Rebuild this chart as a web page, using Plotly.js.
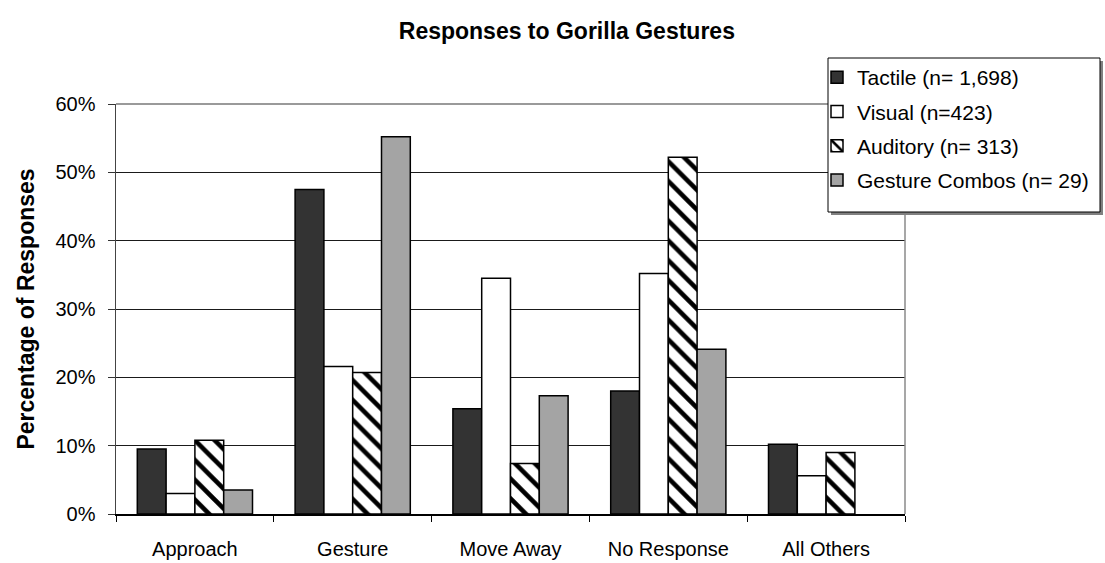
<!DOCTYPE html>
<html>
<head>
<meta charset="utf-8">
<script src="https://cdn.plot.ly/plotly-3.0.1.min.js"></script>
<style>html,body{margin:0;padding:0;background:#fff;}#chart{width:1105px;height:563px;}</style>
</head>
<body>
<div id="chart"></div>
<script>
const categories = ["Approach", "Gesture", "Move Away", "No Response", "All Others"];
const seriesNames = ["Tactile (n= 1,698)", "Visual (n=423)", "Auditory (n= 313)", "Gesture Combos (n= 29)"];
const tactile = [9.5, 47.5, 15.4, 18.0, 10.2];
const visual = [3.0, 21.6, 34.5, 35.2, 5.6];
const auditory = [10.8, 20.7, 7.4, 52.2, 9.0];
const combos = [3.5, 55.2, 17.3, 24.1, null];
const yTicks = [0, 10, 20, 30, 40, 50, 60];

const FONT = "Liberation Sans, Arial, sans-serif";
const outline = {color: "#000", width: 1.5};

const traces = [
  {name: seriesNames[0], y: tactile, marker: {color: "#333333", line: outline}},
  {name: seriesNames[1], y: visual, marker: {color: "#ffffff", line: outline}},
  {name: seriesNames[2], y: auditory, marker: {color: "#ffffff", line: outline,
    pattern: {shape: "\\", fgcolor: "#000", bgcolor: "#fff", size: 14, solidity: 0.33}}},
  {name: seriesNames[3], y: combos, marker: {color: "#b8b8b8", line: outline,
    pattern: {shape: ".", fgcolor: "#707070", bgcolor: "#cdcdcd", size: 2, solidity: 0.5}}}
].map((t, i) => Object.assign({type: "bar", x: categories, legendgroup: "g" + i, hoverinfo: "none"}, t));

const L = 116, R = 200, T = 104, B = 49;
const W = 1105 - L - R, H = 563 - T - B;
const px = v => (v - L) / W;
const py = v => (563 - B - v) / H;

const layout = {
  width: 1105, height: 563,
  margin: {l: L, r: R, t: T, b: B, autoexpand: false},
  paper_bgcolor: "#fff", plot_bgcolor: "#fff",
  font: {family: FONT, color: "#000", size: 20},
  title: {text: "<b>Responses to Gorilla Gestures</b>", font: {family: FONT, size: 23, color: "#000"},
    x: 0.513, xanchor: "center", y: 0.945, yanchor: "middle"},
  barmode: "group", bargap: 0.27, bargroupgap: 0,
  showlegend: true,
  legend: {x: px(817), y: py(57), xanchor: "left", yanchor: "top",
    bgcolor: "rgba(0,0,0,0)", borderwidth: 0,
    font: {family: FONT, size: 21, color: "#000"},
    traceorder: "grouped", tracegroupgap: 4},
  xaxis: {type: "category", tickson: "boundaries", ticks: "outside", ticklen: 6, tickcolor: "#000",
    showline: true, linecolor: "#000", linewidth: 1.5, showgrid: false,
    tickfont: {family: FONT, size: 20}, ticklabelstandoff: 16, fixedrange: true},
  yaxis: {range: [0, 60], tickvals: yTicks, ticktext: yTicks.map(v => v + "%"),
    ticks: "outside", ticklen: 7, tickcolor: "#333",
    showline: true, linecolor: "#444", linewidth: 1.5,
    showgrid: true, gridcolor: "#1a1a1a", gridwidth: 1, zeroline: false,
    tickfont: {family: FONT, size: 20}, ticklabelstandoff: 8,
    title: {text: "<b>Percentage of Responses</b>", font: {family: FONT, size: 23}, standoff: 14},
    fixedrange: true},
  shapes: [
    {type: "line", xref: "paper", yref: "paper", x0: 0, x1: 1, y0: 1, y1: 1, line: {color: "#9a9a9a", width: 2}, layer: "above"},
    {type: "line", xref: "paper", yref: "paper", x0: 1, x1: 1, y0: 0, y1: 1, line: {color: "#8a8a8a", width: 1.5}, layer: "above"},
    {type: "rect", xref: "paper", yref: "paper", x0: px(831), x1: px(1103), y0: py(215), y1: py(61),
      line: {width: 0}, fillcolor: "#808080", layer: "above"},
    {type: "rect", xref: "paper", yref: "paper", x0: px(828), x1: px(1100), y0: py(212), y1: py(58),
      line: {color: "#000", width: 1}, fillcolor: "#fff", layer: "above"}
  ]
};

Plotly.newPlot("chart", traces, layout, {displayModeBar: false, staticPlot: true});
</script>
</body>
</html>
